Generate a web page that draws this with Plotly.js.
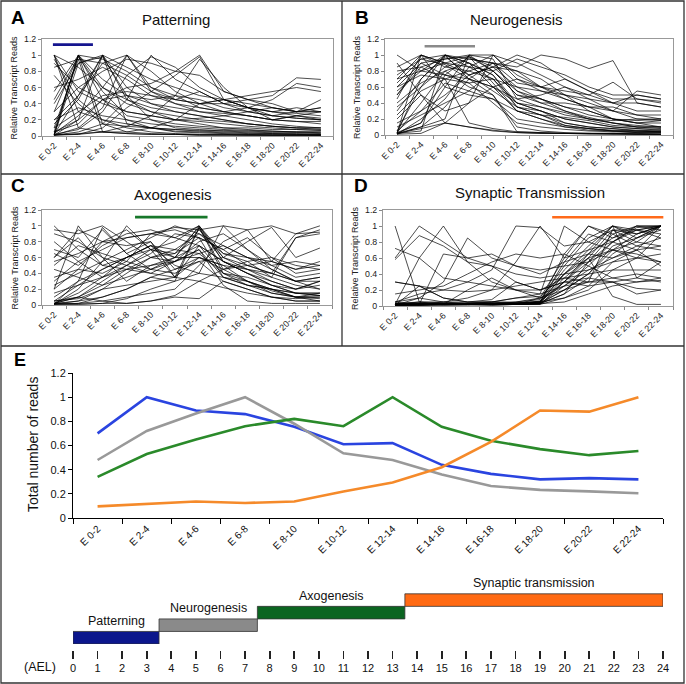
<!DOCTYPE html>
<html><head><meta charset="utf-8">
<script src="https://cdn.plot.ly/plotly-3.0.1.min.js"></script>
<style>html,body{margin:0;padding:0;background:#fff}#chart{width:686px;height:684px}</style>
</head><body><div id="chart"></div>
<script>
// ---------------- DATA ----------------
const categories = ['E 0-2','E 2-4','E 4-6','E 6-8','E 8-10','E 10-12','E 12-14','E 14-16','E 16-18','E 18-20','E 20-22','E 22-24'];

const patterningGenes = [
 [1,0.1,0.05,0.03,0.02,0.02,0.01,0.01,0.01,0.01,0.01,0.01],
 [1,0.55,0.4,0.3,0.25,0.2,0.18,0.15,0.12,0.1,0.08,0.07],
 [1,0.85,0.6,0.45,0.35,0.3,0.25,0.2,0.15,0.12,0.1,0.1],
 [1,0.3,0.2,0.15,0.1,0.08,0.06,0.05,0.04,0.03,0.03,0.02],
 [0.02,1,0.45,0.2,0.1,0.06,0.05,0.04,0.03,0.03,0.02,0.02],
 [0.01,1,0.15,0.05,0.03,0.02,0.02,0.02,0.01,0.01,0.01,0.01],
 [0.3,1,0.95,0.8,0.6,0.5,0.45,0.35,0.3,0.25,0.22,0.2],
 [0.55,1,0.7,0.5,0.4,0.35,0.3,0.28,0.25,0.2,0.18,0.18],
 [0.05,1,0.6,0.4,0.3,0.25,0.2,0.18,0.15,0.12,0.1,0.08],
 [0.1,0.95,0.05,0.03,0.02,0.02,0.01,0.01,0.01,0.01,0.01,0.01],
 [0.02,0.5,1,0.6,0.4,0.3,0.25,0.2,0.15,0.12,0.1,0.1],
 [0.01,0.2,1,0.45,0.3,0.2,0.15,0.1,0.08,0.06,0.05,0.05],
 [0.4,0.9,1,0.85,0.7,0.6,0.5,0.45,0.4,0.35,0.3,0.3],
 [0.15,0.45,1,0.15,0.1,0.05,0.04,0.03,0.02,0.02,0.02,0.01],
 [0.03,0.25,0.6,1,0.55,0.4,0.3,0.25,0.2,0.15,0.12,0.1],
 [0.01,0.1,0.35,1,0.8,0.55,0.4,0.3,0.25,0.2,0.18,0.15],
 [0.2,0.5,0.9,1,0.6,0.45,0.55,0.4,0.35,0.3,0.35,0.3],
 [0.01,0.05,0.15,0.45,1,0.7,0.55,0.4,0.3,0.25,0.22,0.2],
 [0.02,0.08,0.3,0.75,0.98,0.85,0.6,0.45,0.35,0.3,0.28,0.25],
 [0.05,0.2,0.45,0.6,0.65,0.8,1,0.55,0.45,0.4,0.3,0.3],
 [0.01,0.02,0.1,0.35,0.55,0.75,0.98,0.45,0.35,0.3,0.25,0.22],
 [0.3,0.6,0.8,0.95,0.9,0.8,0.75,0.55,0.45,0.35,0.3,0.35],
 [0.85,0.95,0.9,0.75,0.55,0.45,0.4,0.4,0.45,0.5,0.72,0.7],
 [0.6,0.7,0.85,0.7,0.5,0.4,0.35,0.3,0.35,0.45,0.65,0.6],
 [0.1,0.3,0.5,0.55,0.5,0.45,0.4,0.45,0.5,0.55,0.6,0.55],
 [0.9,0.6,0.45,0.3,0.25,0.2,0.22,0.25,0.3,0.35,0.3,0.35],
 [0.2,0.35,0.25,0.2,0.15,0.12,0.1,0.08,0.07,0.06,0.05,0.05],
 [0.75,0.4,0.15,0.12,0.1,0.08,0.07,0.07,0.06,0.05,0.05,0.04],
 [0.05,0.15,0.45,0.5,0.45,0.5,0.35,0.3,0.25,0.2,0.25,0.3],
 [0.45,0.98,0.55,0.25,0.2,0.15,0.12,0.1,0.1,0.08,0.08,0.07],
 [0.01,0.03,0.05,0.12,0.25,0.5,0.95,0.6,0.35,0.2,0.25,0.2],
 [0.02,0.02,0.05,0.05,0.1,0.2,0.4,0.45,0.35,0.25,0.3,0.45],
 [0.95,0.45,0.2,0.1,0.05,0.03,0.02,0.02,0.02,0.01,0.01,0.01],
 [0.01,0.9,0.98,0.5,0.2,0.1,0.08,0.06,0.05,0.04,0.04,0.03]
];

const neurogenesisGenes = [
 [0.02,1,0.85,0.8,0.7,0.35,0.25,0.15,0.1,0.08,0.05,0.05],
 [0.05,0.6,1,0.9,0.75,0.4,0.3,0.2,0.15,0.1,0.08,0.06],
 [0.01,0.1,0.2,1,0.95,0.45,0.35,0.25,0.2,0.15,0.1,0.1],
 [1,0.8,0.75,0.7,0.6,0.3,0.2,0.1,0.06,0.05,0.03,0.03],
 [0.7,1,0.9,0.85,0.8,0.55,0.45,0.35,0.25,0.2,0.15,0.15],
 [0.3,0.7,1,0.95,0.9,0.65,0.6,0.5,0.4,0.3,0.2,0.2],
 [0.02,0.15,0.6,1,0.8,0.5,0.45,0.3,0.2,0.15,0.1,0.08],
 [0.5,0.9,0.95,1,1,0.9,0.75,0.6,0.5,0.4,0.4,0.35],
 [0.8,0.85,0.95,0.98,0.85,1,0.9,0.7,0.55,0.45,0.45,0.4],
 [0.1,0.25,0.4,0.55,0.8,0.95,0.85,0.75,0.6,0.5,0.5,0.45],
 [0.6,0.75,0.7,0.8,0.9,0.85,1,0.95,0.83,0.93,0.4,0.35],
 [0.02,0.08,0.15,0.4,1,0.75,0.6,0.45,0.35,0.2,0.15,0.1],
 [0.45,1,0.6,0.5,0.45,0.2,0.15,0.1,0.08,0.05,0.05,0.04],
 [0.02,0.05,1,0.7,0.5,0.1,0.05,0.03,0.02,0.02,0.02,0.01],
 [0.9,0.5,0.3,0.4,0.6,0.7,0.6,0.55,0.5,0.66,0.45,0.42],
 [0.15,0.3,0.5,0.75,0.85,0.6,0.55,0.45,0.35,0.3,0.25,0.2],
 [0.35,0.6,0.85,0.95,0.9,0.55,0.4,0.3,0.22,0.15,0.12,0.1],
 [0.65,0.95,0.88,0.7,0.6,0.4,0.3,0.2,0.15,0.1,0.08,0.07],
 [0.03,0.4,0.8,0.6,0.5,0.04,0.03,0.02,0.02,0.02,0.01,0.01],
 [0.2,0.5,0.15,0.1,0.05,0.03,0.02,0.02,0.02,0.01,0.01,0.01],
 [0.01,0.2,0.45,0.85,1,0.7,0.55,0.5,0.45,0.4,0.5,0.45],
 [0.55,0.8,0.9,0.75,0.85,0.8,0.6,0.7,0.55,0.4,0.3,0.3],
 [0.25,0.55,0.7,0.65,0.7,0.4,0.35,0.28,0.2,0.18,0.2,0.18],
 [0.02,0.7,0.98,0.75,0.55,0.35,0.3,0.15,0.1,0.08,0.06,0.05],
 [0.85,1,0.9,0.98,0.8,0.5,0.4,0.4,0.35,0.35,0.25,0.25],
 [0.4,0.65,0.8,0.9,0.75,0.35,0.25,0.12,0.08,0.05,0.04,0.04],
 [0.05,0.3,0.65,0.55,0.45,0.3,0.25,0.22,0.18,0.12,0.1,0.1],
 [0.75,0.95,1,0.9,0.6,0.45,0.5,0.6,0.45,0.3,0.55,0.5],
 [0.02,0.1,0.35,0.7,0.9,0.8,0.7,0.5,0.3,0.2,0.15,0.18],
 [0.6,0.9,0.75,0.65,0.4,0.15,0.1,0.07,0.05,0.04,0.03,0.03],
 [0.5,0.85,0.7,0.15,0.08,0.04,0.03,0.02,0.02,0.02,0.01,0.01],
 [0.03,0.15,0.75,0.98,0.65,0.3,0.2,0.12,0.08,0.06,0.05,0.04],
 [0.7,0.8,1,0.85,0.7,0.6,0.45,0.35,0.3,0.2,0.18,0.2],
 [0.01,0.02,0.15,0.1,0.06,0.03,0.02,0.02,0.01,0.01,0.01,0.01]
];

const axogenesisGenes = [
 [0.02,0.1,0.3,0.5,0.7,0.8,1,0.55,0.45,0.3,0.2,0.25],
 [0.01,0.05,0.2,0.4,0.6,0.65,0.98,0.4,0.35,0.25,0.15,0.12],
 [0.05,0.25,0.45,0.6,0.75,0.6,1,0.6,0.5,0.4,0.3,0.35],
 [0.6,0.95,0.8,0.75,0.8,0.35,0.98,0.45,0.3,0.2,0.1,0.1],
 [0.3,0.55,0.7,0.85,0.9,0.95,0.85,0.7,0.5,0.4,0.3,0.3],
 [1,0.7,0.5,0.6,0.75,0.7,0.9,0.65,0.55,0.6,0.5,0.45],
 [0.01,0.2,0.55,1,0.7,0.6,0.75,0.4,0.3,0.2,0.1,0.08],
 [0.2,1,0.6,0.3,0.5,0.55,0.7,0.35,0.25,0.15,0.1,0.05],
 [0.01,0.3,0.98,0.65,0.8,0.45,0.6,0.5,0.3,0.15,0.1,0.12],
 [0.55,0.65,0.8,0.85,0.9,0.98,0.95,1,0.95,1,0.9,1],
 [0.02,0.05,0.1,0.2,0.35,0.45,0.55,0.6,0.8,0.98,0.6,0.72],
 [0.25,0.4,0.55,0.7,0.85,1,0.9,0.75,0.6,0.45,0.3,0.2],
 [0.01,0.02,0.05,0.1,0.15,0.2,0.5,0.8,0.95,0.55,0.9,0.92],
 [0.7,0.6,0.95,0.65,0.45,0.4,0.55,0.3,0.2,0.1,0.05,0.05],
 [0.9,0.8,0.6,0.5,0.4,0.55,0.65,0.75,0.6,0.5,0.55,0.5],
 [0.01,0.01,0.02,0.08,0.2,0.3,0.98,0.55,0.4,0.25,0.2,0.3],
 [0.45,0.35,0.25,0.45,0.6,0.55,0.8,0.9,0.7,0.5,0.35,0.4],
 [0.15,0.25,0.35,0.45,0.4,0.35,0.6,0.45,0.55,0.35,0.85,0.95],
 [0.02,0.1,0.05,0.02,0.05,0.1,0.08,0.3,0.2,0.1,0.05,0.05],
 [0.65,0.5,0.75,0.9,0.95,0.85,0.75,0.55,0.4,0.25,0.15,0.15],
 [0.02,0.15,0.35,0.5,0.65,0.9,0.85,0.35,0.3,0.18,0.1,0.15],
 [0.35,0.45,0.4,0.55,0.45,0.6,0.95,0.6,0.45,0.35,0.25,0.2],
 [0.05,0.08,0.2,0.25,0.3,0.35,0.3,0.45,0.5,0.55,0.45,0.5],
 [0.95,0.9,1,0.8,0.6,0.7,0.65,0.4,0.25,0.2,0.15,0.15],
 [0.01,0.01,0.02,0.02,0.05,0.12,0.3,0.22,0.15,0.1,0.08,0.1],
 [0.5,0.75,0.65,0.55,0.9,0.85,1,0.65,0.6,0.55,0.45,0.55],
 [0.1,0.3,0.45,0.6,0.75,0.5,0.4,1,0.7,0.45,0.3,0.35],
 [0.02,0.02,0.1,0.2,0.35,0.3,0.4,0.35,0.25,0.2,0.15,0.12],
 [0.8,0.55,0.35,0.6,0.7,0.35,0.75,0.55,0.4,0.3,0.2,0.3],
 [0.2,0.45,0.8,0.95,0.7,0.65,0.85,0.7,0.85,0.6,0.4,0.45],
 [0.05,0.1,0.25,0.35,0.45,0.55,0.7,0.25,0.05,0.02,0.02,0.02],
 [0.6,0.85,0.5,0.45,0.5,0.6,0.6,0.5,0.45,0.4,0.85,0.9]
];

const synapticGenes = [
 [1,0.05,0.02,0.02,0.01,0.02,0.02,0.3,0.65,1,0.85,0.95],
 [0.01,0.01,0.02,0.02,0.02,0.03,0.05,0.4,0.7,1,0.9,1],
 [0.02,0.03,0.02,0.03,0.03,0.04,0.06,0.3,0.55,0.9,1,0.95],
 [0.01,0.02,0.01,0.02,0.02,0.02,0.04,0.2,0.4,0.75,0.85,1],
 [0.03,0.05,0.04,0.03,0.05,0.05,0.08,0.5,0.85,1,0.95,0.85],
 [0.02,0.01,0.03,0.02,0.01,0.02,0.03,0.15,0.35,0.65,0.85,1],
 [0.6,1,0.8,0.6,0.5,0.3,0.2,0.3,0.25,0.3,0.35,0.3],
 [0.02,0.6,1,0.55,0.3,0.2,0.15,0.25,0.3,0.35,0.4,0.35],
 [0.01,0.1,0.3,0.85,0.6,0.5,0.4,0.55,0.65,0.6,0.7,0.75],
 [0.05,0.15,0.2,0.3,0.45,1,0.98,0.75,0.8,0.7,0.6,0.55],
 [0.02,0.05,0.05,0.1,0.2,0.55,1,0.6,0.7,0.8,0.95,1],
 [0.3,0.25,0.1,0.05,0.05,0.1,0.15,1,0.8,0.95,0.9,1],
 [0.01,0.02,0.02,0.03,0.02,0.05,0.1,0.6,1,0.9,0.75,0.7],
 [0.02,0.02,0.02,0.02,0.03,0.02,0.05,0.1,0.25,0.55,0.7,1],
 [0.01,0.01,0.01,0.01,0.02,0.02,0.03,0.25,0.5,0.8,0.98,1],
 [0.72,0.6,0.35,0.3,0.25,0.2,0.2,0.35,0.4,0.45,0.45,0.45],
 [0.05,0.1,0.05,0.05,0.05,0.1,0.12,0.4,0.6,0.7,0.8,0.75],
 [0.02,0.03,0.03,0.04,0.05,0.03,0.06,0.45,0.75,1,0.35,0.55],
 [0.01,0.02,0.02,0.02,0.02,0.02,0.02,0.1,0.2,0.45,0.6,0.9],
 [0.15,0.2,0.25,0.4,0.55,0.65,0.6,0.65,0.5,0.35,0.3,0.35],
 [0.02,0.02,0.65,0.6,0.65,0.5,0.45,0.5,0.55,0.7,0.65,0.55],
 [0.01,0.25,0.1,0.05,0.08,0.3,0.2,0.3,0.35,0.3,0.15,0.2],
 [0.03,0.04,0.02,0.03,0.03,0.02,0.04,0.35,0.6,0.95,0.95,0.9],
 [0.02,0.02,0.05,0.03,0.03,0.03,0.05,0.55,0.9,0.8,1,1],
 [0.58,0.88,0.75,0.55,0.5,0.4,0.35,0.4,0.45,0.55,0.6,0.65],
 [0.01,0.01,0.02,0.02,0.02,0.03,0.03,0.2,0.3,0.95,0.8,1],
 [0.02,0.02,0.03,0.02,0.02,0.02,0.03,0.05,0.15,0.25,0.3,0.32],
 [0.05,0.02,0.02,0.2,0.35,0.2,0.1,0.25,0.45,0.6,0.75,0.85],
 [0.02,0.03,0.03,0.03,0.04,0.04,0.05,0.3,0.6,0.12,0.02,0.02],
 [0.01,0.02,0.02,0.02,0.02,0.03,0.04,0.4,0.65,0.85,1,1],
 [0.3,0.25,0.2,0.18,0.2,0.25,0.3,0.35,0.3,0.3,0.22,0.2],
 [0.02,0.02,0.02,0.03,0.03,0.04,0.04,0.65,1,0.85,0.95,1],
 [0.03,0.02,0.02,0.02,0.02,0.02,0.1,0.2,0.4,0.7,0.9,1],
 [0.01,0.01,0.02,0.02,0.02,0.02,0.03,0.15,0.55,0.8,0.7,0.5]
];

const totalPatterning   = [0.70,1.00,0.89,0.86,0.755,0.61,0.62,0.44,0.365,0.32,0.33,0.32];
const totalNeurogenesis = [0.48,0.72,0.865,1.00,0.78,0.535,0.48,0.36,0.265,0.233,0.22,0.205];
const totalAxogenesis   = [0.34,0.53,0.65,0.76,0.82,0.76,1.00,0.755,0.64,0.57,0.52,0.555];
const totalSynaptic     = [0.096,0.118,0.137,0.124,0.137,0.22,0.294,0.42,0.63,0.89,0.88,1.00];

const panelTitles = ['Patterning','Neurogenesis','Axogenesis','Synaptic Transmission'];
const panelLetters = ['A','B','C','D'];
const windowStart = [-0.05, 1.15, 3.35, 6.5];   // category index of coloured window bar
const windowEnd   = [1.6, 3.25, 6.35, 11.1];

const stageNames = ['Patterning','Neurogenesis','Axogenesis','Synaptic transmission'];
const stageStart = [0, 3.5, 7.5, 13.5];
const stageEnd   = [3.5, 7.5, 13.5, 24];
const stageLevel = [0, 1, 2, 3];

// ---------------- STYLE ----------------
const FONT = 'Liberation Sans, Arial, sans-serif';
const windowColors = ['#15158f', '#8a8a8a', '#17772a', '#ff6a1a'];
const totalColors  = ['#2a44e0', '#999999', '#2a8a2a', '#f58a2a'];
const stageColors  = ['#0b168c', '#8a8a8a', '#0b6521', '#ff6a13'];
const W = 686, H = 684;
const px = x => x / W;
const py = y => 1 - y / H;

const panelGeom = [
  {xa:'x',  ya:'y',  xd:[42,333],  yd:[39,136],  title:[176,19],  letter:[9,17],   ytitle:14},
  {xa:'x2', ya:'y2', xd:[385,673], yd:[39,135],  title:[516,19],  letter:[353,17], ytitle:357},
  {xa:'x3', ya:'y3', xd:[42,332],  yd:[210,305], title:[173,194], letter:[9,186],  ytitle:14},
  {xa:'x4', ya:'y4', xd:[383,673], yd:[210,306], title:[530,192], letter:[352,186], ytitle:355}
];
const geneSets = [patterningGenes, neurogenesisGenes, axogenesisGenes, synapticGenes];

const traces = [];
const layout = {
  width: W, height: H, margin:{l:0,r:0,t:0,b:0},
  paper_bgcolor:'#fff', plot_bgcolor:'rgba(0,0,0,0)',
  showlegend:false, font:{family:FONT, color:'#111'},
  annotations:[], shapes:[]
};

panelGeom.forEach((g, i) => {
  const n = i === 0 ? '' : String(i + 1);
  geneSets[i].forEach(vals => {
    traces.push({type:'scatter', mode:'lines', x:categories, y:vals, xaxis:g.xa, yaxis:g.ya,
      line:{color:'#000', width:0.7}, hoverinfo:'skip'});
  });
  layout['xaxis' + n] = {domain:[px(g.xd[0]), px(g.xd[1])], anchor:g.ya, type:'category',
    categoryorder:'array', categoryarray:categories, range:[-0.5, 11.5], tickson:'boundaries',
    ticks:'outside', ticklen:3, tickcolor:'#888', tickangle:-45, tickfont:{size:8.8, color:'#222'},
    showline:true, linecolor:'#999', linewidth:1, mirror:true, showgrid:false, zeroline:false};
  layout['yaxis' + n] = {domain:[py(g.yd[1]), py(g.yd[0])], anchor:g.xa, range:[0, 1.2], dtick:0.2, tick0:0,
    ticks:'outside', ticklen:3, tickcolor:'#888', tickfont:{size:8.8, color:'#222'},
    showline:true, linecolor:'#999', linewidth:1, mirror:true, showgrid:false, zeroline:false};
  layout.annotations.push({xref:'paper', yref:'paper', x:px(g.ytitle), y:py((g.yd[0] + g.yd[1]) / 2),
    text:'Relative Transcript Reads', textangle:-90, showarrow:false, xanchor:'center', yanchor:'middle',
    font:{size:9, color:'#222'}});
  layout.shapes.push({type:'line', xref:g.xa, yref:g.ya, x0:windowStart[i], x1:windowEnd[i],
    y0: i === 0 ? 1.13 : 1.11, y1: i === 0 ? 1.13 : 1.11, line:{color:windowColors[i], width:2.6}});
  layout.annotations.push({xref:'paper', yref:'paper', x:px(g.title[0]), y:py(g.title[1]),
    text:panelTitles[i], showarrow:false, xanchor:'center', yanchor:'middle', font:{size:15, color:'#111'}});
  layout.annotations.push({xref:'paper', yref:'paper', x:px(g.letter[0]), y:py(g.letter[1]),
    text:'<b>' + panelLetters[i] + '</b>', showarrow:false, xanchor:'left', yanchor:'middle', font:{size:19, color:'#000'}});
});

// Panel E
const totals = [totalPatterning, totalNeurogenesis, totalAxogenesis, totalSynaptic];
totals.forEach((vals, i) => {
  traces.push({type:'scatter', mode:'lines', x:categories, y:vals, xaxis:'x5', yaxis:'y5',
    line:{color:totalColors[i], width:2.6}, hoverinfo:'skip'});
});
layout.xaxis5 = {domain:[px(73), px(663)], anchor:'y5', type:'category', categoryorder:'array', categoryarray:categories,
  range:[-0.5, 11.5], tickson:'boundaries', ticks:'outside', ticklen:5, tickcolor:'#000', tickangle:-45,
  tickfont:{size:10, color:'#111'}, showline:true, linecolor:'#000', linewidth:1, showgrid:false, zeroline:false};
layout.yaxis5 = {domain:[py(518), py(373)], anchor:'x5', range:[0, 1.2], dtick:0.2, tick0:0,
  ticks:'outside', ticklen:4, tickcolor:'#000', tickfont:{size:11, color:'#111'},
  showline:true, linecolor:'#000', linewidth:1, showgrid:false, zeroline:false};
layout.annotations.push({xref:'paper', yref:'paper', x:px(33), y:py(445), text:'Total number of reads',
  textangle:-90, showarrow:false, xanchor:'center', yanchor:'middle', font:{size:14, color:'#111'}});
layout.annotations.push({xref:'paper', yref:'paper', x:px(12), y:py(360), text:'<b>E</b>', showarrow:false,
  xanchor:'left', yanchor:'middle', font:{size:18, color:'#000'}});

// Timeline
traces.push({type:'bar', orientation:'h', xaxis:'x6', yaxis:'y6', y:stageLevel,
  base:stageStart, x:stageStart.map((s, i) => stageEnd[i] - s), width:1,
  marker:{color:stageColors, line:{color:'#333', width:0.8}}, hoverinfo:'skip'});
layout.xaxis6 = {domain:[px(73), px(663)], anchor:'free', position:py(650), range:[0, 24], dtick:1, tick0:0,
  ticks:'outside', ticklen:8, tickwidth:1.8, tickcolor:'#222', showline:false, showgrid:false, zeroline:false,
  tickfont:{size:11, color:'#111'}};
layout.yaxis6 = {domain:[py(644), py(575)], anchor:'x6', range:[-0.5, 5], visible:false, showgrid:false, zeroline:false};
stageNames.forEach((name, i) => {
  layout.annotations.push({xref:'x6', yref:'y6', x:(stageStart[i] + stageEnd[i]) / 2, y:stageLevel[i] + 1.35,
    text:name, showarrow:false, xanchor:'center', yanchor:'middle', font:{size:12.5, color:'#111'}});
});
layout.annotations.push({xref:'paper', yref:'paper', x:px(40), y:py(667), text:'(AEL)', showarrow:false,
  xanchor:'center', yanchor:'middle', font:{size:12.5, color:'#111'}});

// Panel borders
const border = {color:'#333', width:1.3};
layout.shapes.push({type:'rect', xref:'paper', yref:'paper', x0:px(1), x1:px(684), y0:py(683), y1:py(1), line:border});
layout.shapes.push({type:'line', xref:'paper', yref:'paper', x0:px(342), x1:px(342), y0:py(1), y1:py(346), line:border});
layout.shapes.push({type:'line', xref:'paper', yref:'paper', x0:px(1), x1:px(684), y0:py(174), y1:py(174), line:border});
layout.shapes.push({type:'line', xref:'paper', yref:'paper', x0:px(1), x1:px(684), y0:py(346), y1:py(346), line:border});

Plotly.newPlot('chart', traces, layout, {staticPlot:true, displayModeBar:false});
</script></body></html>
